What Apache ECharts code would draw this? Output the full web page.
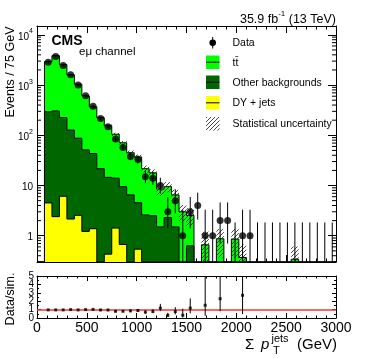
<!DOCTYPE html>
<html>
<head>
<meta charset="utf-8">
<script src="https://cdn.jsdelivr.net/npm/echarts@6/dist/echarts.min.js"></script>
<style>
html, body { margin: 0; padding: 0; background: #fff; }
#main { width: 374px; height: 359px; }
</style>
</head>
<body>
<div id="main"></div>
<script>
// 40 bins of 75 GeV, 0 - 3000 GeV
var binWidth = 75;
var nBins = 40;

// observed events per bin (null = not drawn, 0 = empty bin with error bar)
var dataCounts = [null, 2850, 3700, 2450, 1600, 1000, 610, 380, 215, 148,
  84, 57, 38, 33, 15, 14, 10, 3, 5, 1,
  3, 4, 1, 1, 2, 2, 0, 1, 1, 0,
  0, 0, 0, 0, 0, 0, 0, 0, 0, 0];
var dataErrDn = [0, 53, 61, 49, 40, 32, 25, 19, 15, 12,
  9.2, 7.5, 6.1, 5.7, 3.8, 3.7, 3.1, 1.6, 2.2, 0.83,
  1.6, 1.9, 0.83, 0.83, 1.3, 1.3, 0, 0.83, 0.83, 0,
  0, 0, 0, 0, 0, 0, 0, 0, 0, 0];
var dataErrUp = [0, 54, 62, 50, 41, 33, 26, 20, 16, 13,
  10.2, 8.6, 7.2, 6.8, 4.9, 4.8, 4.3, 2.9, 3.4, 2.3,
  2.9, 3.2, 2.3, 2.3, 2.6, 2.6, 1.84, 2.3, 2.3, 1.84,
  1.84, 1.84, 1.84, 1.84, 1.84, 1.84, 1.84, 1.84, 1.84, 1.84];

// simulation, per process
var ttbar = [0, 2655, 3545, 2325, 1473, 952, 559, 327, 203, 141,
  91, 61.5, 38.5, 32.5, 19, 15.4, 7, 7.2, 5, 2.8,
  1.9, 0, 0.66, 0, 0.87, 0, 0.86, 0.37, 0, 0,
  0, 0, 0, 0, 0.34, 0, 0, 0, 0, 0];
var otherBkg = [0, 290, 303, 219, 125, 85, 50, 42, 21.6, 14.1,
  12.6, 8.8, 6.5, 4.0, 2.6, 2.5, 1.5, 2.3, 1.5, 0.2,
  0.63, 0, 0, 0, 0, 0, 0, 0, 0, 0,
  0, 0, 0, 0, 0, 0, 0, 0, 0, 0];
var dyJets = [0, 4.5, 2.4, 6.1, 2.15, 2.55, 1.22, 1.38, 0, 0.43,
  1.42, 0.67, 0, 0.54, 0, 0, 0, 0, 0, 0,
  0, 0, 0, 0, 0, 0, 0, 0, 0, 0,
  0, 0, 0, 0, 0, 0, 0, 0, 0, 0];
var statUnc = [0, 40, 45, 38, 30, 25, 18, 14, 11, 9,
  7.5, 6, 4.8, 4.5, 3.3, 3, 2.3, 2.2, 1.7, 1.1,
  1.0, 0, 0.55, 0, 0.5, 0, 0.5, 0.3, 0, 0,
  0, 0, 0, 0, 0.27, 0, 0, 0, 0, 0];

// ratio panel tick labels
var ratioTicks = [0, 1, 2, 3, 4, 5];

var legendNames = ['Data', 'tt\u0304', 'Other backgrounds', 'DY + jets', 'Statistical uncertainty'];

var FONT = 'Liberation Sans, Arial, Helvetica, sans-serif';
var C_TT = '#00ff00', C_OTHER = '#006600', C_DY = '#ffff00';
var yMin = 0.3, yMax = 15000;

// hatch pattern for the uncertainty band
var hatch = document.createElement('canvas');
hatch.width = 4; hatch.height = 4;
var hc = hatch.getContext('2d');
hc.strokeStyle = '#333';
hc.lineWidth = 0.9;
hc.beginPath();
hc.moveTo(0, 4); hc.lineTo(4, 0);
hc.moveTo(-1, 1); hc.lineTo(1, -1);
hc.moveTo(3, 5); hc.lineTo(5, 3);
hc.stroke();
var hatchFill = { image: hatch, repeat: 'repeat' };

function clampY(v) { return Math.min(Math.max(v, yMin), yMax); }

// stacked tops
var topDy = [], topOther = [], topTotal = [];
for (var i = 0; i < nBins; i++) {
  topDy.push(dyJets[i]);
  topOther.push(dyJets[i] + otherBkg[i]);
  topTotal.push(dyJets[i] + otherBkg[i] + ttbar[i]);
}

function histData(tops) {
  var out = [];
  for (var i = 0; i < nBins; i++) out.push([i * binWidth, (i + 1) * binWidth, tops[i]]);
  return out;
}

// whole stacked histogram as one step polygon, drawn from the first item
function stepRender(color) {
  return function (params, api) {
    if (params.dataIndexInside !== 0) return null;
    var cs = params.coordSys;
    var bottom = cs.y + cs.height;
    var pts = [];
    for (var j = 0; j < params.dataInsideLength; j++) {
      var t = clampY(api.value(2, j));
      pts.push(api.coord([api.value(0, j), t]));
      pts.push(api.coord([api.value(1, j), t]));
    }
    var poly = [[pts[0][0], bottom]].concat(pts, [[pts[pts.length - 1][0], bottom]]);
    return { type: 'group', children: [
      { type: 'polygon', shape: { points: poly }, style: { fill: color } },
      { type: 'polyline', shape: { points: poly }, style: { stroke: '#000', lineWidth: 1, fill: null } }
    ] };
  };
}

// uncertainty band
var bandData = [];
for (var i = 0; i < nBins; i++) {
  if (topTotal[i] > 0) bandData.push([i * binWidth, (i + 1) * binWidth, topTotal[i] - statUnc[i], topTotal[i] + statUnc[i]]);
}

// data points and error bars
var dataPts = [], dataErr = [];
for (var i = 0; i < nBins; i++) {
  var n = dataCounts[i];
  if (n === null) continue;
  var xc = (i + 0.5) * binWidth;
  if (n > 0) dataPts.push([xc, n]);
  dataErr.push([xc, n - dataErrDn[i], n + dataErrUp[i]]);
}

// ratio data / simulation
var ratioPts = [], ratioErr = [];
for (var i = 0; i < nBins; i++) {
  var n = dataCounts[i];
  if (!n || !(topTotal[i] > 0)) continue;
  var xc = (i + 0.5) * binWidth;
  var r = n / topTotal[i];
  ratioPts.push([xc, r]);
  ratioErr.push([xc, r - dataErrDn[i] / topTotal[i], r + dataErrUp[i] / topTotal[i]]);
}

// log minor ticks
var logMinor = [];
for (var e = -1; e <= 4; e++) {
  for (var k = 2; k <= 9; k++) {
    var v = k * Math.pow(10, e);
    if (v > yMin && v < yMax) logMinor.push([0, v]);
  }
}

function errRender(lo, hi) {
  return function (params, api) {
    var x = api.value(0);
    var a = api.coord([x, Math.max(api.value(1), lo)]);
    var b = api.coord([x, Math.min(api.value(2), hi)]);
    return { type: 'line', shape: { x1: a[0], y1: a[1], x2: b[0], y2: b[1] }, style: { stroke: '#000', lineWidth: 1 } };
  };
}

function xAx(grid, pos, labels) {
  return {
    type: 'value', gridIndex: grid, position: pos, min: 0, max: 3000, interval: 500,
    axisLine: { show: true, onZero: false, lineStyle: { color: '#000', width: 1 } },
    axisTick: { show: true, inside: true, length: grid === 0 ? 7 : 5, lineStyle: { color: '#000' } },
    minorTick: { show: true, splitNumber: 5, length: grid === 0 ? 3.5 : 2.5, lineStyle: { color: '#000' } },
    splitLine: { show: false },
    axisLabel: { show: labels, color: '#000', fontFamily: FONT, fontSize: 14, margin: 3,
      formatter: function (v) { return String(v); } }
  };
}

function logLabel(value) {
  var e = Math.round(Math.log10(value));
  if (Math.abs(value - Math.pow(10, e)) / value > 1e-6) return '';
  if (e === 0) return '{b|1}';
  if (e === 1) return '{b|10}';
  return '{b|10}{s|' + e + '}';
}

function ratioAx(pos) {
  return {
    type: 'value', gridIndex: 1, position: pos, min: 0, max: 5, interval: 1,
    axisLine: { show: true, onZero: false, lineStyle: { color: '#000' } },
    axisTick: { inside: true, length: 4, lineStyle: { color: '#000' } },
    minorTick: { show: true, splitNumber: 2, length: 2, lineStyle: { color: '#000' } },
    splitLine: { show: false },
    axisLabel: { show: false }
  };
}

var chart = echarts.init(document.getElementById('main'));
chart.setOption({
  animation: false,
  backgroundColor: '#fff',
  grid: [
    { left: 37, right: 38, top: 26, height: 236 },
    { left: 37, right: 38, top: 276, height: 42 }
  ],
  xAxis: [xAx(0, 'bottom', false), xAx(0, 'top', false), xAx(1, 'bottom', true), xAx(1, 'top', false)],
  yAxis: [
    {
      type: 'log', gridIndex: 0, position: 'left', min: yMin, max: yMax, logBase: 10,
      axisLine: { show: true, onZero: false, lineStyle: { color: '#000' } },
      axisTick: { inside: true, length: 8, lineStyle: { color: '#000' } },
      splitLine: { show: false },
      axisLabel: {
        showMinLabel: false, showMaxLabel: false, margin: 4, formatter: logLabel,
        rich: {
          b: { fontFamily: FONT, fontSize: 10, color: '#000', verticalAlign: 'bottom', lineHeight: 14 },
          s: { fontFamily: FONT, fontSize: 7, color: '#000', verticalAlign: 'top', lineHeight: 14 }
        }
      }
    },
    {
      type: 'log', gridIndex: 0, position: 'right', min: yMin, max: yMax, logBase: 10,
      axisLine: { show: true, onZero: false, lineStyle: { color: '#000' } },
      axisTick: { inside: true, length: 8, lineStyle: { color: '#000' } },
      splitLine: { show: false }, axisLabel: { show: false }
    },
    ratioAx('left'),
    ratioAx('right')
  ],
  series: [
    { name: legendNames[1], type: 'custom', xAxisIndex: 0, yAxisIndex: 0, data: histData(topTotal), renderItem: stepRender(C_TT), z: 2 },
    { name: legendNames[2], type: 'custom', xAxisIndex: 0, yAxisIndex: 0, data: histData(topOther), renderItem: stepRender(C_OTHER), z: 3 },
    { name: legendNames[3], type: 'custom', xAxisIndex: 0, yAxisIndex: 0, data: histData(topDy), renderItem: stepRender(C_DY), z: 4 },
    {
      name: legendNames[4], type: 'custom', xAxisIndex: 0, yAxisIndex: 0, data: bandData, z: 5,
      renderItem: function (params, api) {
        var a = api.coord([api.value(0), clampY(api.value(3))]);
        var b = api.coord([api.value(1), clampY(api.value(2))]);
        return { type: 'rect', shape: { x: a[0], y: a[1], width: b[0] - a[0], height: b[1] - a[1] }, style: { fill: hatchFill } };
      }
    },
    {
      type: 'custom', xAxisIndex: 0, yAxisIndex: 0, data: logMinor, z: 6, silent: true,
      renderItem: function (params, api) {
        var cs = params.coordSys;
        var y = api.coord([0, api.value(1)])[1];
        return { type: 'group', children: [
          { type: 'line', shape: { x1: cs.x, y1: y, x2: cs.x + 4, y2: y }, style: { stroke: '#000', lineWidth: 1 } },
          { type: 'line', shape: { x1: cs.x + cs.width - 4, y1: y, x2: cs.x + cs.width, y2: y }, style: { stroke: '#000', lineWidth: 1 } }
        ] };
      }
    },
    { type: 'custom', xAxisIndex: 0, yAxisIndex: 0, data: dataErr, renderItem: errRender(yMin, yMax), z: 7 },
    { name: legendNames[0], type: 'scatter', xAxisIndex: 0, yAxisIndex: 0, data: dataPts, symbol: 'circle', symbolSize: 7, itemStyle: { color: '#000' }, z: 8 },
    { type: 'custom', xAxisIndex: 2, yAxisIndex: 2, data: ratioErr, renderItem: errRender(0, 5), z: 7 },
    {
      type: 'scatter', xAxisIndex: 2, yAxisIndex: 2, data: ratioPts, symbol: 'rect', symbolSize: 3, itemStyle: { color: '#000' }, z: 8,
      markLine: { silent: true, symbol: 'none', label: { show: false }, lineStyle: { color: '#ff3030', width: 1.5, type: 'solid' }, data: [{ yAxis: 1 }] }
    },
    {
      // ratio axis tick labels (placed through the axis scale, all shown even though they touch)
      type: 'custom', xAxisIndex: 2, yAxisIndex: 2, silent: true, z: 9,
      data: ratioTicks.map(function (t) { return [0, t]; }),
      renderItem: function (params, api) {
        var p = api.coord([0, api.value(1)]);
        return { type: 'text', x: p[0] - 3, y: p[1], style: { text: String(api.value(1)), font: '10px ' + FONT, fill: '#000', align: 'right', verticalAlign: 'middle' } };
      }
    }
  ],
  graphic: [
    { type: 'text', x: 11, y: 72, rotation: Math.PI / 2, style: { text: 'Events / 75 GeV', font: '12.5px ' + FONT, fill: '#000', align: 'center', verticalAlign: 'middle' } },
    { type: 'text', x: 11, y: 299, rotation: Math.PI / 2, style: { text: 'Data/sim.', font: '12.5px ' + FONT, fill: '#000', align: 'center', verticalAlign: 'middle' } },
    { type: 'text', x: 336, y: 18, style: { text: '{a|35.9 fb}{s|-1}{a| (13 TeV)}', align: 'right', verticalAlign: 'middle',
      rich: { a: { font: '12.5px ' + FONT, fill: '#000', verticalAlign: 'bottom', lineHeight: 16 }, s: { font: '8px ' + FONT, fill: '#000', verticalAlign: 'top', lineHeight: 16 } } } },
    { type: 'text', x: 51.5, y: 41, style: { text: 'CMS', font: 'bold 14px ' + FONT, fill: '#000', align: 'left', verticalAlign: 'middle' } },
    { type: 'text', x: 79, y: 52, style: { text: 'e\u03bc channel', font: '11.5px ' + FONT, fill: '#000', align: 'left', verticalAlign: 'middle' } },
    // x axis title
    { type: 'text', x: 245, y: 345, style: { text: '\u03a3', font: '15px ' + FONT, fill: '#000', align: 'left', verticalAlign: 'middle' } },
    { type: 'text', x: 261, y: 345, style: { text: 'p', font: 'italic 15px ' + FONT, fill: '#000', align: 'left', verticalAlign: 'middle' } },
    { type: 'text', x: 271.5, y: 339, style: { text: 'jets', font: '11px ' + FONT, fill: '#000', align: 'left', verticalAlign: 'middle' } },
    { type: 'text', x: 273, y: 351, style: { text: 'T', font: '11px ' + FONT, fill: '#000', align: 'left', verticalAlign: 'middle' } },
    { type: 'text', x: 337, y: 345, style: { text: '(GeV)', font: '15px ' + FONT, fill: '#000', align: 'right', verticalAlign: 'middle' } },
    // legend
    { type: 'line', shape: { x1: 212.7, y1: 37, x2: 212.7, y2: 48.5 }, style: { stroke: '#000', lineWidth: 1 } },
    { type: 'circle', shape: { cx: 212.7, cy: 42.7, r: 3.3 }, style: { fill: '#000' } },
    { type: 'text', x: 232.5, y: 42.7, style: { text: legendNames[0], font: '10.5px ' + FONT, fill: '#000', verticalAlign: 'middle' } },
    { type: 'rect', shape: { x: 206, y: 55.5, width: 13.5, height: 13.5 }, style: { fill: C_TT } },
    { type: 'line', shape: { x1: 206, y1: 62.2, x2: 219.5, y2: 62.2 }, style: { stroke: '#000', lineWidth: 1 } },
    { type: 'text', x: 232.5, y: 62.7, style: { text: legendNames[1], font: '10.5px ' + FONT, fill: '#000', verticalAlign: 'middle' } },
    { type: 'rect', shape: { x: 206, y: 75.5, width: 13.5, height: 13.5 }, style: { fill: C_OTHER } },
    { type: 'line', shape: { x1: 206, y1: 82.2, x2: 219.5, y2: 82.2 }, style: { stroke: '#000', lineWidth: 1 } },
    { type: 'text', x: 232.5, y: 82.9, style: { text: legendNames[2], font: '10.5px ' + FONT, fill: '#000', verticalAlign: 'middle' } },
    { type: 'rect', shape: { x: 206, y: 96, width: 13.5, height: 13.5 }, style: { fill: C_DY } },
    { type: 'line', shape: { x1: 206, y1: 102.8, x2: 219.5, y2: 102.8 }, style: { stroke: '#000', lineWidth: 1 } },
    { type: 'text', x: 232.5, y: 103.4, style: { text: legendNames[3], font: '10.5px ' + FONT, fill: '#000', verticalAlign: 'middle' } },
    { type: 'rect', shape: { x: 206, y: 117, width: 13.5, height: 13.5 }, style: { fill: hatchFill } },
    { type: 'text', x: 232.5, y: 124.3, style: { text: legendNames[4], font: '10.5px ' + FONT, fill: '#000', verticalAlign: 'middle' } }
  ]
});
</script>
</body>
</html>
